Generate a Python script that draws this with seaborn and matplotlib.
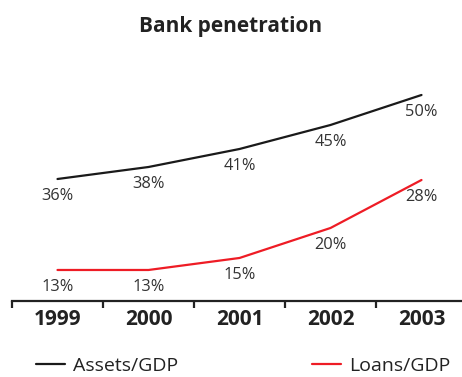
import numpy as np
import pandas as pd
import matplotlib
matplotlib.use("Agg")
import matplotlib.pyplot as plt
from matplotlib.ticker import FixedLocator
import seaborn as sns

years = ["1999", "2000", "2001", "2002", "2003"]
assets_gdp = [36, 38, 41, 45, 50]
loans_gdp = [13, 13, 15, 20, 28]

sns.set_theme(style="white")
plt.rcParams["font.family"] = ["Open Sans", "DejaVu Sans"]

df = pd.DataFrame({"year": years, "Assets/GDP": assets_gdp, "Loans/GDP": loans_gdp})

W, H = 462, 377
fig = plt.figure(figsize=(W / 100, H / 100), dpi=100)
ax = fig.add_axes([12 / W, 1 - 301 / H, 455 / W, 241 / H])
ax2 = ax.twinx()

sns.lineplot(data=df, x="year", y="Assets/GDP", ax=ax, color="#1a1a1a",
             linewidth=1.6, label="Assets/GDP", legend=False)
sns.lineplot(data=df, x="year", y="Loans/GDP", ax=ax2, color="#ee1c25",
             linewidth=1.6, label="Loans/GDP", legend=False)

ax.set_xlim(-0.5, len(years) - 0.5)
ax.set_ylim(15.67, 55.83)
ax2.set_ylim(7.83, 48.0)

lab_kw = dict(textcoords="offset points", ha="center", va="center",
              fontsize=11.8, color="#333333")
for i, v in enumerate(assets_gdp):
    ax.annotate(f"{v}%", (i, v), xytext=(0, -12.5), **lab_kw)
for i, v in enumerate(loans_gdp):
    ax2.annotate(f"{v}%", (i, v), xytext=(0, -12.5), **lab_kw)

for a in (ax, ax2):
    for s in ("top", "left", "right"):
        a.spines[s].set_visible(False)
    a.set_yticks([])
    a.set_ylabel("")
    a.set_xlabel("")
ax2.spines["bottom"].set_visible(False)

ax.spines["bottom"].set_color("#222222")
ax.spines["bottom"].set_linewidth(1.6)
ax.set_xticks(range(len(years)))
ax.set_xticklabels(years, fontsize=15, fontweight="bold", color="#222222")
ax.tick_params(axis="x", which="major", length=0, pad=5.5)
ax.xaxis.set_minor_locator(FixedLocator(np.arange(-0.5, len(years), 1.0)))
ax.tick_params(axis="x", which="minor", bottom=True, direction="out",
               length=5, width=1.6, color="#222222")

fig.text(0.5, 1 - 26.5 / H, "Bank penetration", ha="center", va="center",
         fontsize=15, fontweight="bold", color="#222222")

handles = ax.get_lines()[:1] + ax2.get_lines()[:1]
fig.legend(handles, ["Assets/GDP", "Loans/GDP"], loc="center left",
           bbox_to_anchor=(36 / W, 1 - 366 / H), ncol=2, frameon=False,
           fontsize=14, handlelength=1.5, handletextpad=0.4,
           columnspacing=6.9, labelcolor="#222222", borderaxespad=0,
           borderpad=0)

fig.savefig("out.png", dpi=100)
